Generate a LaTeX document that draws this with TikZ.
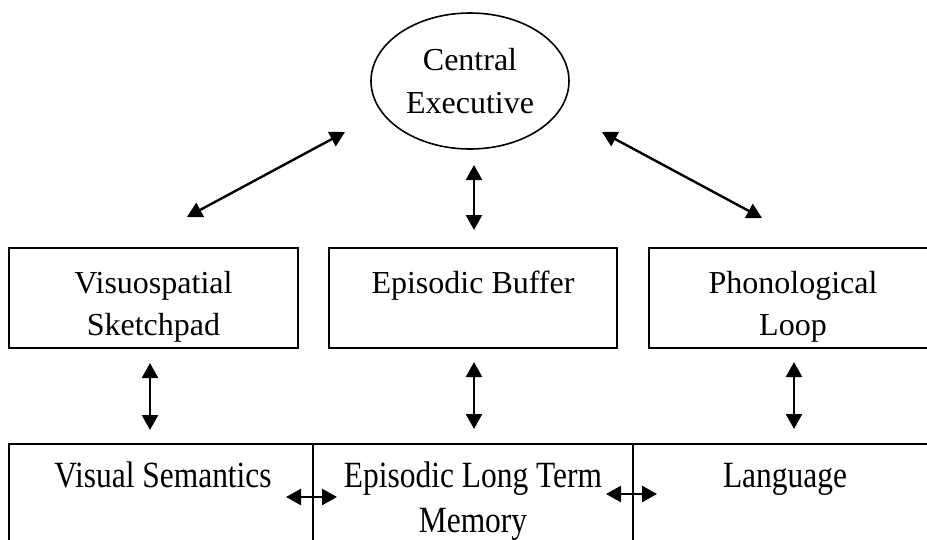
\documentclass[tikz,border=0pt]{standalone}
\usepackage{fontspec}
\setmainfont{Liberation Serif}
\newfontfamily\condfont[FakeStretch=0.85]{Liberation Serif}
\usetikzlibrary{arrows.meta,shapes.geometric}
\begin{document}
\begin{tikzpicture}[x=1pt,y=-1pt,
  boxshape/.style={draw,line width=2.2pt,rectangle,inner sep=0pt},
  toptext/.style={font=\fontsize{32}{42}\selectfont,align=center,inner sep=0pt},
  bottext/.style={font=\condfont\fontsize{37}{45}\selectfont,align=center,inner sep=0pt},
  biarrow/.style={line width=2.4pt,{Triangle[length=15pt,width=16pt]}-{Triangle[length=15pt,width=16pt]}}]
\useasboundingbox (0,0) rectangle (927,539);
\clip (0,0) rectangle (927,539);
% central executive
\node[draw,ellipse,line width=1.6pt,minimum width=198pt,minimum height=136pt,inner sep=0pt,
  font=\fontsize{32}{43}\selectfont,align=center] (CE) at (470,81) {Central\\Executive};
% top row boxes
\node[boxshape,minimum width=289pt,minimum height=100pt] (VS) at (153.5,298) {};
\node[boxshape,minimum width=288pt,minimum height=100pt] (EB) at (473,298) {};
\node[boxshape,minimum width=288pt,minimum height=100pt] (PL) at (793,298) {};
\node[toptext] (VSt) at (153.5,307) {Visuospatial\\Sketchpad};
\node[toptext,anchor=base] (EBt) at (473,293) {Episodic Buffer};
\node[toptext] (PLt) at (793,307) {Phonological\\Loop};
% bottom row boxes
\node[boxshape,minimum width=304pt,minimum height=140pt] (VSem) at (161,514) {};
\node[boxshape,minimum width=320pt,minimum height=140pt] (ELTM) at (473,514) {};
\node[boxshape,minimum width=304pt,minimum height=140pt] (Lang) at (785,514) {};
\node[bottext,anchor=base] (VSemt) at (163,487) {Visual Semantics};
\node[bottext] (ELTMt) at (473,501) {Episodic Long Term\\Memory};
\node[bottext,anchor=base] (Langt) at (785,487) {Language};
% arrow end points
\coordinate (a1) at (187,217); \coordinate (a2) at (345,132);
\coordinate (b1) at (602,132); \coordinate (b2) at (762,218);
\coordinate (c1) at (474,165); \coordinate (c2) at (474,230);
\coordinate (d1) at (150,363); \coordinate (d2) at (150,430);
\coordinate (e1) at (474,362); \coordinate (e2) at (474,429);
\coordinate (f1) at (794,362); \coordinate (f2) at (794,429);
\coordinate (g1) at (286,497); \coordinate (g2) at (337,497);
\coordinate (h1) at (606,494); \coordinate (h2) at (657,494);
\draw[biarrow] (a1) -- (a2);
\draw[biarrow] (b1) -- (b2);
\draw[biarrow] (c1) -- (c2);
\draw[biarrow] (d1) -- (d2);
\draw[biarrow] (e1) -- (e2);
\draw[biarrow] (f1) -- (f2);
\draw[biarrow] (g1) -- (g2);
\draw[biarrow] (h1) -- (h2);
\end{tikzpicture}
\end{document}
